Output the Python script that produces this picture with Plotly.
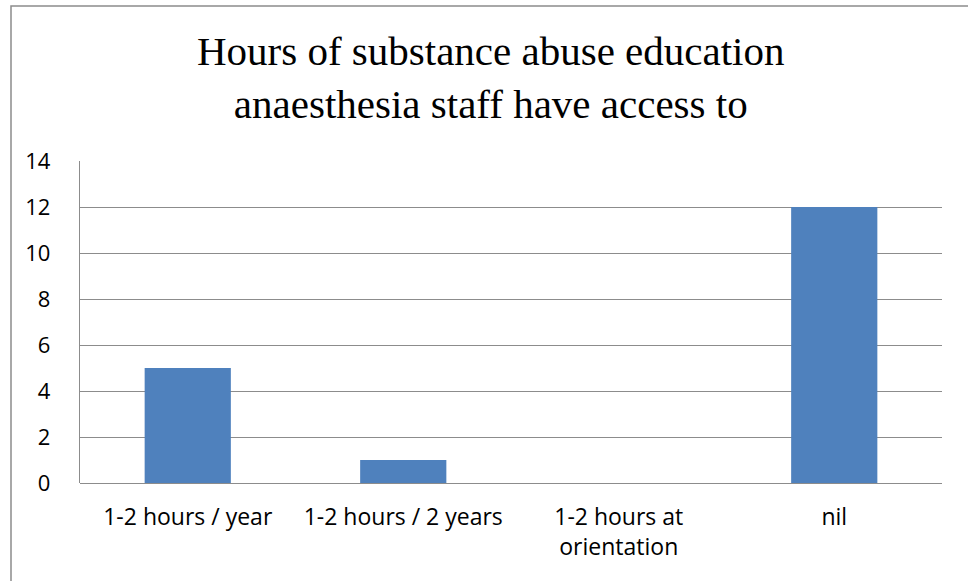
import plotly.graph_objects as go

categories = ["1-2 hours / year", "1-2 hours / 2 years", "1-2 hours at<br>orientation", "nil"]
counts = [5, 1, 0, 12]
y_ticks = [0, 2, 4, 6, 8, 10, 12, 14]

title_text = "Hours of substance abuse education<br>anaesthesia staff have access to"

fig = go.Figure(
    go.Bar(
        x=categories,
        y=counts,
        marker=dict(color="#4F81BD", line=dict(width=0)),
        width=0.4,
    )
)

fig.update_layout(
    width=968,
    height=581,
    margin=dict(l=80, r=26, t=161, b=98),
    paper_bgcolor="white",
    plot_bgcolor="white",
    showlegend=False,
    font=dict(family="Open Sans, Liberation Sans, sans-serif", size=22, color="#000000"),
    annotations=[
        dict(
            text=title_text,
            xref="paper", yref="paper",
            x=(491 - 80) / 862, y=(483 - 26) / 322,
            xanchor="center", yanchor="top",
            showarrow=False,
            align="center",
            font=dict(family="Liberation Serif, serif", size=41, color="#000000"),
        )
    ],
    shapes=[
        dict(
            type="rect", xref="paper", yref="paper",
            x0=(11 - 80) / 862, x1=(980 - 80) / 862,
            y0=-0.5, y1=(483 - 6) / 322,
            line=dict(color="#8c8c8c", width=1.5),
            layer="below",
        )
    ],
)

fig.update_xaxes(
    showgrid=False,
    showline=False,
    ticks="",
    tickfont=dict(size=23),
    ticklabelstandoff=18,
)
fig.update_yaxes(
    range=[0, 14],
    tickvals=y_ticks,
    showgrid=True,
    gridcolor="#8c8c8c",
    gridwidth=1.3,
    showline=True,
    linecolor="#8c8c8c",
    linewidth=1.3,
    zeroline=True,
    zerolinecolor="#8c8c8c",
    zerolinewidth=1.3,
    ticks="",
    tickfont=dict(size=22),
    ticklabelstandoff=24,
)

fig.write_html("out.html")
